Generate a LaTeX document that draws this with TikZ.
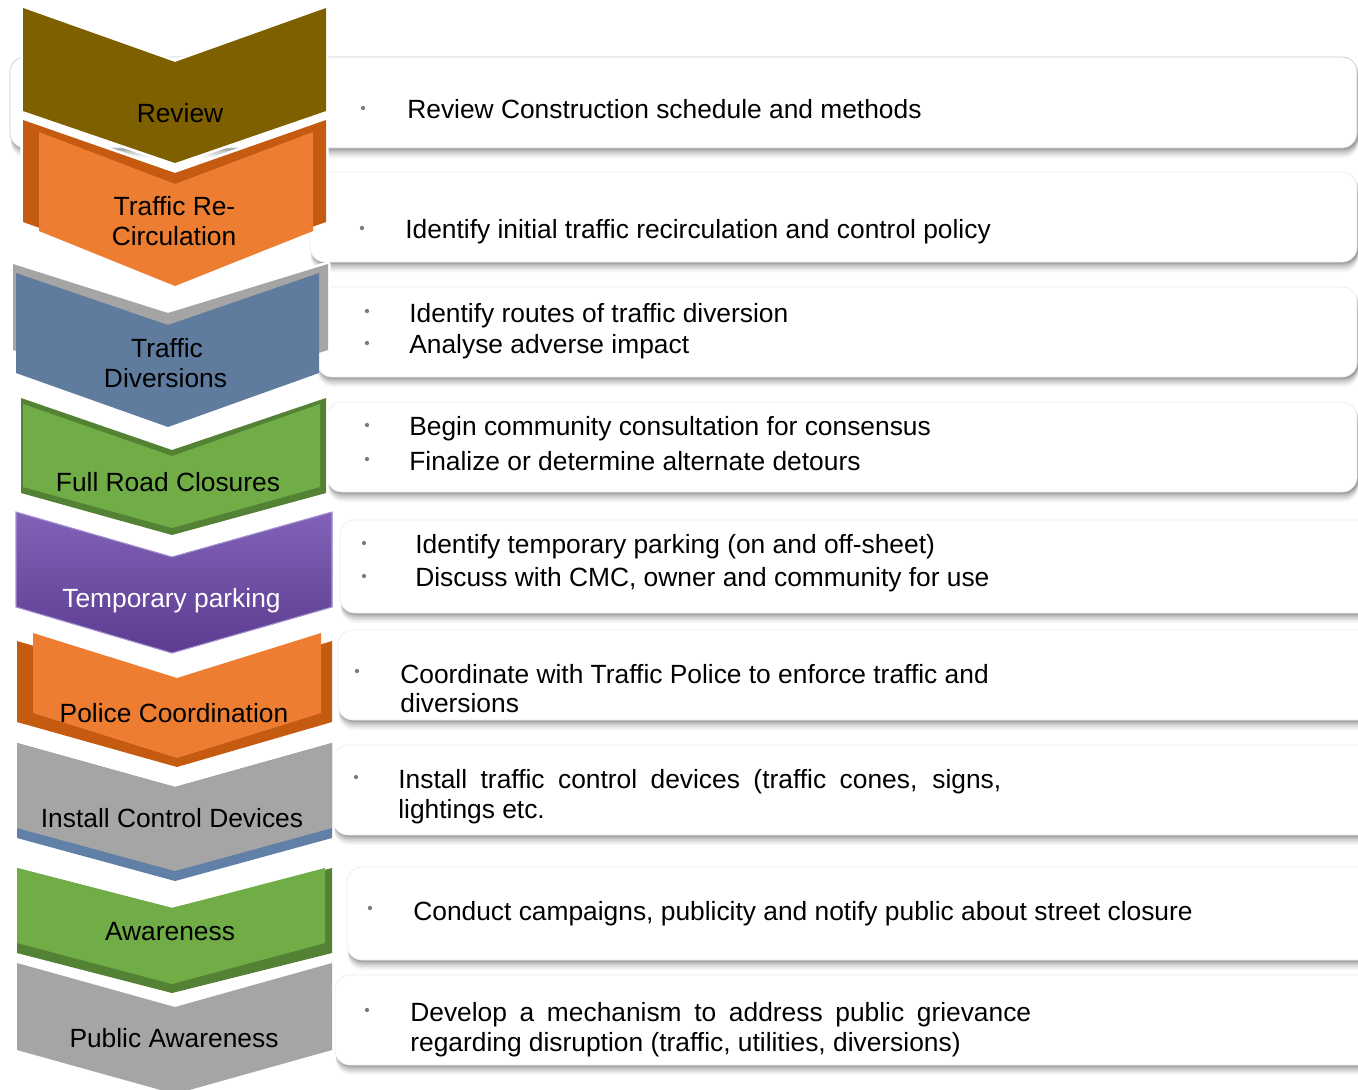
\documentclass[tikz,border=0pt]{standalone}
\usepackage{fontspec}
\setmainfont{Liberation Sans}
\definecolor{olive}{HTML}{7F6000}
\definecolor{org}{HTML}{ED7D31}
\definecolor{orgD}{HTML}{C55A11}
\definecolor{gry}{HTML}{A5A5A5}
\definecolor{blu}{HTML}{5F7B9E}
\definecolor{bluB}{HTML}{6180A8}
\definecolor{grn}{HTML}{70AD47}
\definecolor{grnD}{HTML}{548235}
\definecolor{purT}{HTML}{8262B8}
\definecolor{purB}{HTML}{5C3C90}
\definecolor{purE}{HTML}{A592D2}
\definecolor{bulgray}{HTML}{7A7A7A}
\definecolor{frameblue}{HTML}{C2CEDA}
\tikzset{
  lbl/.style={font=\fontsize{15}{18}\selectfont, text=black, inner sep=0pt, anchor=base},
  itm/.style={font=\fontsize{15}{18}\selectfont, text=black, inner sep=0pt, anchor=base west},
  bul/.style={circle, fill=bulgray, draw=none, inner sep=0pt, minimum size=0.085cm},
  tboxs/.style={fill=white, draw=black!7, line width=0.4pt, rounded corners=0.3cm},
  gap/.style={preaction={draw=white, line width=3pt, line join=round}},
  purp/.style={top color=purT, bottom color=purB, draw=purE, line width=0.6pt}
}
\newcommand\tbox[6]{% name x1 y1 x2 y2 draw
  \foreach \k/\o in {10/0.03,8.5/0.04,7/0.05,5.5/0.06,4/0.07,2.5/0.09,1.5/0.1}{
    \fill[black,opacity=\o,rounded corners=0.3cm] (#2+1,#3+\k) rectangle (#4+1.5,#5+\k);
  }
  \draw[tboxs,#6] (#2,#3) rectangle (#4,#5);
  \coordinate (#1) at ({(#2+#4)/2},{(#3+#5)/2});
}
\newcommand\chev[8]{\fill[#1] (#2,#5) -- (#3,#6) -- (#4,#5) -- (#4,#7) -- (#3,#8) -- (#2,#7) -- cycle;}
\begin{document}
\begin{tikzpicture}[x=0.02cm,y=-0.02cm]
\useasboundingbox (0,0) rectangle (1358,1089);
\clip (0,0) rectangle (1358,1089);
\fill[white] (0,0) rectangle (1358,1089);

% text boxes
\tbox{box1}{10}{57}{1357}{148}{draw=frameblue}
\tbox{box2}{310}{172}{1357}{262}{}
\tbox{box3}{317}{287}{1357}{377}{}
\tbox{box4}{327}{402}{1357}{492}{}
\tbox{box5}{340}{520}{1385}{613}{}
\tbox{box6}{338}{630}{1385}{720}{}
\tbox{box7}{333}{745}{1385}{835}{}
\tbox{box8}{347}{867}{1385}{960}{}
\tbox{box9}{335}{975}{1385}{1065}{}

% chevrons, bottom to top
\chev{gry,gap}{17}{175}{332}{963}{1007}{1050}{1094}
\chev{grnD,gap}{17}{172}{332}{868}{908}{953}{993}
\chev{grn}{17}{172}{325}{868}{908}{943}{984}
\chev{bluB,gap}{17}{175}{332}{743}{787}{838}{881}
\chev{gry}{17}{175}{332}{743}{787}{828}{871}
\chev{orgD,gap}{17}{177}{332}{641}{688}{722}{767}
\chev{org}{33}{177}{321}{633}{678}{713}{758}
\chev{purp,gap}{16}{172}{332}{512}{557}{607}{653}
\chev{grnD,gap}{21}{172}{326}{398}{450}{493}{535}
\chev{grn}{23}{172}{320}{404}{456}{487}{528}
\chev{gry,gap}{13}{168}{328}{264}{313}{350}{400}
\chev{blu}{16}{168}{319}{273}{325}{373}{427}
\chev{orgD,gap}{23}{175}{326}{120}{173}{222}{276}
\chev{org}{39}{175}{313}{132}{184}{231}{286}
\chev{olive,gap}{23}{175}{326}{8}{62}{111}{163}

% chevron labels
\node[lbl] (cReview) at (180,122) {Review};
\node[lbl] (cRecA) at (174.5,215) {Traffic Re-};
\node[lbl] (cRecB) at (174,245) {Circulation};
\node[lbl] (cDivA) at (167,357) {Traffic};
\node[lbl] (cDivB) at (165.5,387) {Diversions};
\node[lbl] (cFull) at (168,491) {Full Road Closures};
\node[lbl, text=white] (cTemp) at (171.5,607) {Temporary parking};
\node[lbl] (cPol) at (174,722) {Police Coordination};
\node[lbl] (cInst) at (172,827) {Install Control Devices};
\node[lbl] (cAw) at (170,940) {Awareness};
\node[lbl] (cPub) at (174,1047) {Public Awareness};

% bullets and items
\node[bul] (d1) at (363,108) {};
\node[itm] (t1) at (407,118.5) {Review Construction schedule and methods};
\node[bul] (d2) at (362,228) {};
\node[itm] (t2) at (405,238) {Identify initial traffic recirculation and control policy};
\node[bul] (d3a) at (367,311) {};
\node[itm] (t3a) at (409,322) {Identify routes of traffic diversion};
\node[bul] (d3b) at (367,343) {};
\node[itm] (t3b) at (409,353) {Analyse adverse impact};
\node[bul] (d4a) at (367,425) {};
\node[itm] (t4a) at (409,435) {Begin community consultation for consensus};
\node[bul] (d4b) at (367,459) {};
\node[itm] (t4b) at (409,470) {Finalize or determine alternate detours};
\node[bul] (d5a) at (364,543) {};
\node[itm] (t5a) at (415,553) {Identify temporary parking (on and off-sheet)};
\node[bul] (d5b) at (364,576) {};
\node[itm] (t5b) at (415,586) {Discuss with CMC, owner and community for use};
\node[bul] (d6) at (357,671) {};
\node[itm] (t6a) at (400,683) {Coordinate with Traffic Police to enforce traffic and};
\node[itm] (t6b) at (400,712) {diversions};
\node[bul] (d7) at (356,777) {};
\node[itm] (t7a) at (398,788) {\makebox[12.06cm][s]{Install traffic control devices (traffic cones, signs,}};
\node[itm] (t7b) at (398,818) {lightings etc.};
\node[bul] (d8) at (370,908) {};
\node[itm] (t8) at (413,920) {Conduct campaigns, publicity and notify public about street closure};
\node[bul] (d9) at (367,1010) {};
\node[itm] (t9a) at (410,1021) {\makebox[12.42cm][s]{Develop a mechanism to address public grievance}};
\node[itm] (t9b) at (410,1051) {regarding disruption (traffic, utilities, diversions)};
\end{tikzpicture}
\end{document}
